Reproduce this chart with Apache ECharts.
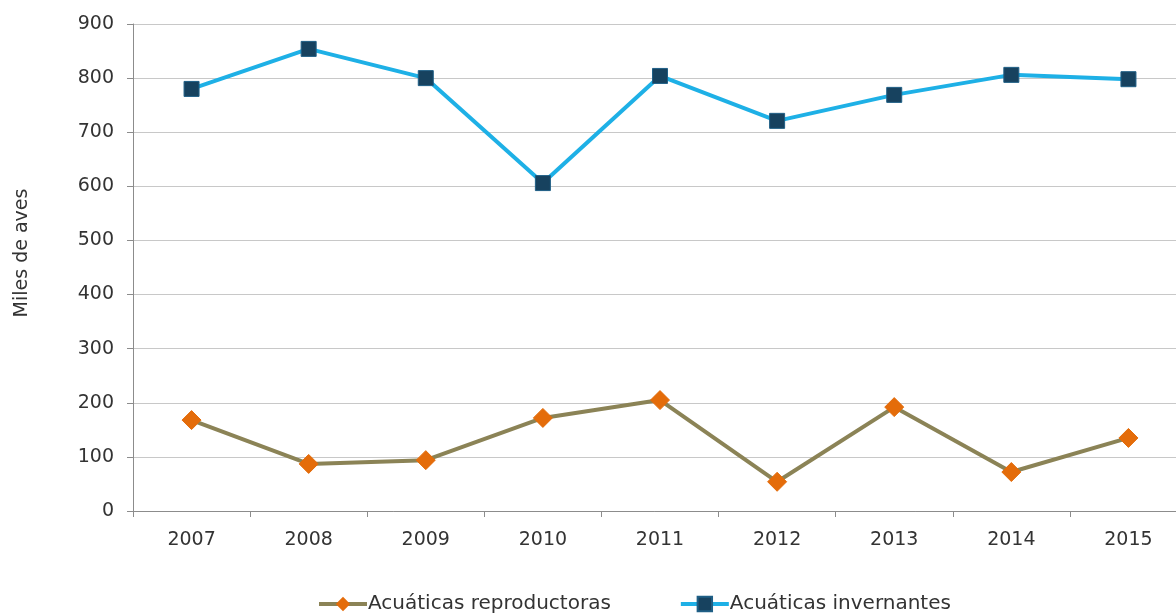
<!DOCTYPE html>
<html><head><meta charset="utf-8">
<script src="https://cdn.jsdelivr.net/npm/echarts@6/dist/echarts.min.js"></script>
<style>html,body{margin:0;padding:0;background:#fff}#c{width:1176px;height:614px}</style>
</head><body><div id="c"></div>
<script>
const years = ['2007','2008','2009','2010','2011','2012','2013','2014','2015'];
const reproductoras = [168, 87, 94, 172, 205, 54, 192, 72, 135];
const invernantes = [780, 854, 800, 606, 804, 721, 769, 806, 798];
const yTicks = [0, 100, 200, 300, 400, 500, 600, 700, 800, 900];

const chart = echarts.init(document.getElementById('c'), null, {renderer: 'canvas'});
const font = 'DejaVu Sans, Verdana, sans-serif';
chart.setOption({
  animation: false,
  backgroundColor: '#fff',
  grid: {left: 133, top: 24, width: 1054, height: 487, containLabel: false, outerBoundsMode: 'none'},
  legend: {
    top: 589, left: 312, itemGap: 68, itemWidth: 48, itemHeight: 18,
    lineStyle: {width: 4},
    textStyle: {fontFamily: font, fontSize: 20, color: '#333', padding: [0,0,0,-4]},
    data: ['Acuáticas reproductoras', 'Acuáticas invernantes']
  },
  graphic: [{
    type: 'text', x: 22, y: 253, rotation: Math.PI / 2, origin: [0, 0],
    style: {text: 'Miles de aves', font: '19px ' + font, fill: '#333', align: 'center', verticalAlign: 'middle'}
  }],
  xAxis: {
    type: 'category', data: years, boundaryGap: true,
    axisLine: {lineStyle: {color: '#8c8c8c', width: 1}},
    axisTick: {show: true, length: 6, lineStyle: {color: '#8c8c8c'}},
    axisLabel: {fontFamily: font, fontSize: 19, color: '#333', margin: 20}
  },
  yAxis: {
    type: 'value', min: yTicks[0], max: yTicks[yTicks.length-1], interval: 100,
    axisLine: {show: true, lineStyle: {color: '#8c8c8c'}},
    axisTick: {show: true, length: 6, lineStyle: {color: '#8c8c8c'}},
    axisLabel: {fontFamily: font, fontSize: 19, color: '#333', margin: 19},
    splitLine: {lineStyle: {color: '#c8c8c8', width: 1}}
  },
  series: [
    {
      name: 'Acuáticas reproductoras', type: 'line', data: reproductoras,
      symbol: 'diamond', symbolSize: 19,
      lineStyle: {color: '#8b8356', width: 4},
      itemStyle: {color: '#e46c0a', borderColor: '#e46c0a'},
      color: '#8b8356'
    },
    {
      name: 'Acuáticas invernantes', type: 'line', data: invernantes,
      symbol: 'rect', symbolSize: 15,
      lineStyle: {color: '#1eb0e6', width: 4},
      itemStyle: {color: '#17425f', borderColor: '#1f5f86', borderWidth: 1},
      color: '#1eb0e6'
    }
  ]
});
</script></body></html>
